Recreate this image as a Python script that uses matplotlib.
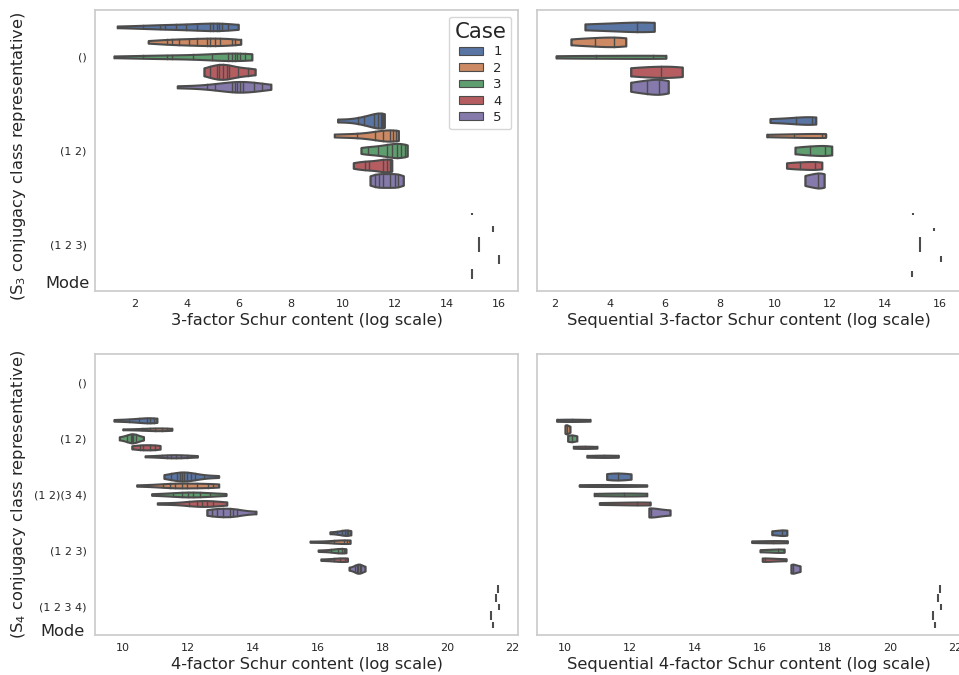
import colorsys
import numpy as np
import matplotlib
matplotlib.use("Agg")
import matplotlib.pyplot as plt
from matplotlib.patches import Patch

# ---------------- data ----------------
CASES = ["1", "2", "3", "4", "5"]
S3_CLASSES = ["()", "(1 2)", "(1 2 3)"]
S4_CLASSES = ["()", "(1 2)", "(1 2)(3 4)", "(1 2 3)", "(1 2 3 4)"]

# observed log Schur contents, one list per case (1..5) for each class
S3_FULL = {
    "()": [
        [1.32, 2.3, 2.96, 3.15, 3.58, 3.96, 4.4, 4.88, 5.01, 5.14, 5.24, 5.35, 5.59, 5.97],
        [2.51, 3.22, 3.41, 3.71, 4.09, 4.37, 4.76, 4.88, 5.08, 5.27, 5.72, 5.85, 6.06],
        [1.19, 2.3, 3.22, 3.41, 4.22, 4.95, 5.59, 5.72, 5.85, 5.94, 6.04, 6.23, 6.49],
        [4.65, 4.88, 5.17, 5.24, 5.37, 5.52, 5.63, 5.97, 6.36, 6.62],
        [3.63, 4.76, 5.08, 5.72, 5.85, 5.94, 6.04, 6.17, 6.58, 6.87, 7.22],
    ],
    "(1 2)": [
        [9.79, 10.59, 10.82, 11.2, 11.36, 11.46, 11.5, 11.55, 11.59],
        [9.67, 10.52, 11.23, 11.55, 11.81, 11.94, 12.03, 12.13],
        [10.69, 10.97, 11.36, 11.68, 11.87, 12.06, 12.23, 12.38, 12.47],
        [10.4, 10.85, 11.0, 11.55, 11.68, 11.81, 11.87],
        [11.04, 11.23, 11.4, 11.55, 11.81, 12.0, 12.13, 12.32],
    ],
    "(1 2 3)": [[14.97], [15.76], [15.23], [16.0], [14.95]],
}
S3_FULL_COUNTS = {
    "()": [50, 50, 50, 100, 71],
    "(1 2)": [100, 75, 95, 85, 92],
    "(1 2 3)": [12, 44, 100, 62, 62],
}

S3_SEQ = {
    "()": [
        [3.09, 4.97, 5.61],
        [2.58, 3.45, 4.16, 4.57],
        [2.04, 3.48, 5.57, 6.03],
        [4.75, 5.84, 6.63],
        [4.75, 5.36, 5.79, 6.12],
    ],
    "(1 2)": [
        [9.82, 10.75, 11.36, 11.48],
        [9.70, 10.70, 11.70, 11.84],
        [10.73, 11.27, 11.82, 12.06],
        [10.42, 10.91, 11.45, 11.70],
        [11.09, 11.55, 11.79],
    ],
    "(1 2 3)": [[15.01], [15.79], [15.27], [16.04], [14.99]],
}
S3_SEQ_COUNTS = {
    "()": [64, 64, 21, 75, 100],
    "(1 2)": [51, 27, 67, 53, 100],
    "(1 2 3)": [12, 19, 100, 38, 38],
}

S4_FULL = {
    "()": [[], [], [], [], []],
    "(1 2)": [
        [9.73, 10.2, 10.5, 10.74, 10.85, 10.95, 11.05],
        [10.0, 10.6, 10.84, 11.0, 11.2, 11.36, 11.51],
        [9.9, 10.12, 10.25, 10.3, 10.33, 10.41, 10.64],
        [10.28, 10.53, 10.63, 10.84, 11.0, 11.15],
        [10.69, 11.2, 11.36, 11.5, 11.65, 11.8, 11.97, 12.3],
    ],
    "(1 2)(3 4)": [
        [11.27, 11.5, 11.66, 11.75, 11.82, 11.9, 11.99, 12.1, 12.23, 12.5, 12.95],
        [10.43, 11.25, 11.46, 11.61, 11.82, 11.99, 12.28, 12.64, 12.79, 12.95],
        [10.89, 11.56, 11.82, 12.02, 12.17, 12.38, 12.69, 13.18],
        [11.07, 12.05, 12.28, 12.43, 12.59, 12.79, 13.2],
        [12.59, 12.74, 12.9, 13.1, 13.31, 13.41, 13.51, 14.1],
    ],
    "(1 2 3)": [
        [16.38, 16.6, 16.74, 16.85, 16.89, 16.95, 17.02],
        [15.77, 16.5, 16.82, 16.9, 17.0],
        [16.02, 16.4, 16.62, 16.74, 16.8, 16.87],
        [16.1, 16.5, 16.7, 16.85, 16.92],
        [16.97, 17.15, 17.2, 17.25, 17.3, 17.35, 17.46],
    ],
    "(1 2 3 4)": [[21.55], [21.5], [21.59], [21.33], [21.41]],
}
S4_FULL_COUNTS = {
    "()": [0, 0, 0, 0, 0],
    "(1 2)": [57, 30, 100, 57, 35],
    "(1 2)(3 4)": [100, 54, 54, 65, 94],
    "(1 2 3)": [60, 40, 50, 40, 100],
    "(1 2 3 4)": [90, 80, 60, 100, 70],
}

S4_SEQ = {
    "()": [[], [], [], [], []],
    "(1 2)": [
        [9.74, 10.2, 10.77],
        [10.0, 10.05, 10.15],
        [10.08, 10.2, 10.36],
        [10.26, 10.6, 10.98],
        [10.67, 11.2, 11.64],
    ],
    "(1 2)(3 4)": [
        [11.28, 11.62, 12.03],
        [10.44, 11.33, 12.51],
        [10.9, 11.82, 12.51],
        [11.06, 12.21, 12.62],
        [12.58, 12.65, 13.23],
    ],
    "(1 2 3)": [
        [16.36, 16.67, 16.82],
        [15.74, 16.41, 16.84],
        [16.0, 16.56, 16.74],
        [16.07, 16.15, 16.80],
        [16.95, 17.02, 17.23],
    ],
    "(1 2 3 4)": [[21.54], [21.47], [21.57], [21.31], [21.38]],
}
S4_SEQ_COUNTS = {
    "()": [0, 0, 0, 0, 0],
    "(1 2)": [25, 100, 75, 25, 25],
    "(1 2)(3 4)": [78, 22, 33, 33, 100],
    "(1 2 3)": [62, 25, 38, 38, 100],
    "(1 2 3 4)": [90, 80, 60, 100, 70],
}

S3_TICKS = [2, 4, 6, 8, 10, 12, 14, 16]
S4_TICKS = [10, 12, 14, 16, 18, 20, 22]

# ---------------- style ----------------
DEEP = ["#4C72B0", "#DD8452", "#55A868", "#C44E52", "#8172B3"]


def desat(hexc, prop=0.75):
    r, g, b = matplotlib.colors.to_rgb(hexc)
    h, l, s = colorsys.rgb_to_hls(r, g, b)
    return colorsys.hls_to_rgb(h, l, s * prop)


COLORS = [desat(c) for c in DEEP]
lum = min(colorsys.rgb_to_hls(*c)[1] for c in COLORS) * 0.6
GRAY = (lum, lum, lum)
LW = 1.5
TXT = "#262626"

plt.rcParams["font.family"] = ["DejaVu Sans"]


def kde_shape(vals, n=100):
    v = np.asarray(vals, float)
    grid = np.linspace(v.min(), v.max(), n)
    bw = v.std(ddof=1) * len(v) ** (-1 / 5)
    d = np.exp(-0.5 * ((grid[:, None] - v[None, :]) / bw) ** 2).sum(axis=1)
    return grid, d / d.max()


def violins(ax, classes, data, counts):
    n_h = len(CASES)
    each = 0.8 / n_h
    half = each / 2
    offsets = np.linspace(-0.4 + each / 2, 0.4 - each / 2, n_h)
    for i, cls in enumerate(classes):
        cnt = np.asarray(counts[cls], float)
        mx = cnt.max() if cnt.max() > 0 else 1
        for j in range(n_h):
            vals = data[cls][j]
            if len(vals) == 0:
                continue
            pos = i + offsets[j]
            scale = cnt[j] / mx
            if len(set(vals)) == 1:
                ax.plot([vals[0], vals[0]], [pos - half * scale, pos + half * scale],
                        color=GRAY, lw=LW, solid_capstyle="butt", zorder=3)
                continue
            grid, dens = kde_shape(vals)
            hw = dens * half * scale
            ax.fill_between(grid, pos - hw, pos + hw, facecolor=COLORS[j],
                            edgecolor=GRAY, linewidth=LW, zorder=2)
            for v in vals:
                k = np.argmin(np.abs(grid - v))
                w = hw[k] * 0.99
                ax.plot([v, v], [pos - w, pos + w], color=GRAY, lw=1.0, zorder=3)


def style(ax, classes, xlim, ticks, xlabel, show_y):
    ax.set_ylim(len(classes) - 0.5, -0.5)
    ax.set_xlim(*xlim)
    ax.set_xticks(ticks)
    ax.set_xticklabels([str(t) for t in ticks])
    ax.set_yticks(range(len(classes)))
    ax.set_yticklabels(classes if show_y else [])
    ax.tick_params(length=0, labelsize=8, labelcolor=TXT, pad=6)
    for s in ax.spines.values():
        s.set_color("#cccccc")
        s.set_linewidth(1.25)
    ax.set_xlabel(xlabel, fontsize=11.7, color=TXT, labelpad=3)
    ax.grid(False)


W, H = 959, 675
fig = plt.figure(figsize=(W / 100, H / 100), dpi=100)


def add_ax(left, top, right, bottom):
    return fig.add_axes([left / W, 1 - bottom / H, (right - left) / W, (bottom - top) / H])


ax_tl = add_ax(95, 10, 518, 291)
ax_tr = add_ax(537, 10, 960, 291)
ax_bl = add_ax(95, 354, 518, 635)
ax_br = add_ax(537, 354, 960, 635)

violins(ax_tl, S3_CLASSES, S3_FULL, S3_FULL_COUNTS)
violins(ax_tr, S3_CLASSES, S3_SEQ, S3_SEQ_COUNTS)
violins(ax_bl, S4_CLASSES, S4_FULL, S4_FULL_COUNTS)
violins(ax_br, S4_CLASSES, S4_SEQ, S4_SEQ_COUNTS)

style(ax_tl, S3_CLASSES, (0.46, 16.73), S3_TICKS, "3-factor Schur content (log scale)", True)
style(ax_tr, S3_CLASSES, (1.345, 16.73), S3_TICKS, "Sequential 3-factor Schur content (log scale)", False)
style(ax_bl, S4_CLASSES, (9.147, 22.17), S4_TICKS, "4-factor Schur content (log scale)", True)
style(ax_br, S4_CLASSES, (9.138, 22.15), S4_TICKS, "Sequential 4-factor Schur content (log scale)", False)

ax_tl.set_ylabel("(S$_3$ conjugacy class representative)", fontsize=11.7, color=TXT)
ax_tl.yaxis.set_label_coords(-0.158, 0.48)
ax_bl.set_ylabel("(S$_4$ conjugacy class representative)", fontsize=11.7, color=TXT)
ax_bl.yaxis.set_label_coords(-0.158, 0.5)

fig.text(45 / W, 1 - 283 / H, "Mode", fontsize=11.7, color=TXT, va="center", ha="left")
fig.text(40 / W, 1 - 632 / H, "Mode", fontsize=11.7, color=TXT, va="center", ha="left")

handles = [Patch(facecolor=COLORS[j], edgecolor=GRAY, linewidth=0.8) for j in range(len(CASES))]
leg = ax_tl.legend(handles, CASES, title="Case", loc="upper right", fontsize=9.5,
                   title_fontsize=15.3, frameon=True, borderaxespad=0.5,
                   handlelength=1.8, handleheight=0.55, labelspacing=0.26, borderpad=0.4)
leg.get_frame().set_edgecolor("#cccccc")
leg.get_frame().set_linewidth(1.0)
for t in leg.get_texts():
    t.set_color(TXT)
leg.get_title().set_color(TXT)

fig.savefig("out.png", dpi=100, facecolor="white")
